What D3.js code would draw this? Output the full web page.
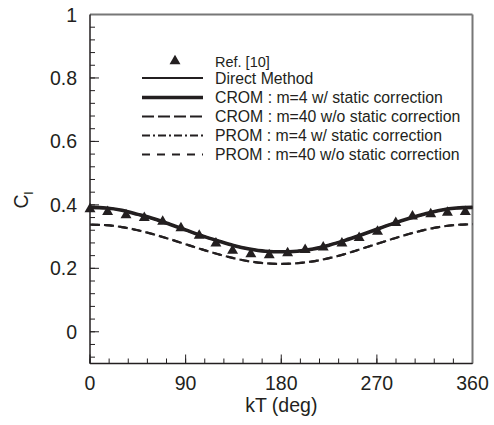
<!DOCTYPE html>
<html><head><meta charset="utf-8">
<script src="https://cdn.jsdelivr.net/npm/d3@7"></script>
<style>body{margin:0;background:#fff}svg{display:block;font-family:"Liberation Sans",Arial,sans-serif}</style>
</head><body><svg id="c" width="494" height="425"></svg>
<script>
// ---- data ----
const curveX = [0,15,30,45,60,75,90,105,120,135,150,165,180,195,210,225,240,255,270,285,300,315,330,345,360];
const directCl = [0.392,0.390,0.383,0.370,0.356,0.339,0.321,0.303,0.287,0.272,0.261,0.254,0.252,0.254,0.261,0.273,0.288,0.305,0.323,0.341,0.357,0.371,0.383,0.390,0.392];
const crom4Cl = directCl;
const prom4Cl = directCl;
const crom40Cl = [0.338,0.336,0.330,0.320,0.307,0.292,0.276,0.260,0.245,0.232,0.222,0.216,0.214,0.216,0.222,0.232,0.245,0.261,0.277,0.293,0.308,0.321,0.331,0.337,0.339];
const prom40Cl = crom40Cl;
const refX = [0,16.6,33.9,51.1,68.4,85.6,102.8,118.5,134.2,151.4,168.7,186,202.5,219.5,237.1,253.3,270.6,287.8,303.5,320.7,336.4,353.2];
const refCl = [0.387,0.378,0.368,0.359,0.347,0.327,0.303,0.279,0.256,0.245,0.242,0.248,0.258,0.266,0.279,0.296,0.316,0.343,0.364,0.371,0.376,0.378];
const xTicks = [0,90,180,270,360];
const yTicks = [0,0.2,0.4,0.6,0.8,1];
const legendLabels = ["Ref. [10]","Direct Method","CROM : m=4 w/ static correction","CROM : m=40 w/o static correction","PROM : m=4 w/ static correction","PROM : m=40 w/o static correction"];

// ---- layout ----
const svg = d3.select("#c");
const L = 90, R = 472.5, T = 14.5, B = 363.5;
const x = d3.scaleLinear().domain([0,360]).range([L,R]);
const y = d3.scaleLinear().domain([-0.1,1]).range([B,T]);
const ink = "#231f20";

// minor ticks
const xMinor = d3.range(0,361,18);
const yMinor = d3.range(-0.08,1.0001,0.04);
const g = svg.append("g");
g.selectAll(".xm").data(xMinor).join("line")
  .attr("x1",d=>x(d)).attr("x2",d=>x(d)).attr("y1",B).attr("y2",B-5)
  .attr("stroke",ink).attr("stroke-width",1);
g.selectAll(".ym").data(yMinor).join("line")
  .attr("x1",L).attr("x2",L+5).attr("y1",d=>y(d)).attr("y2",d=>y(d))
  .attr("stroke",ink).attr("stroke-width",1);
g.selectAll(".xM").data(xTicks).join("line")
  .attr("x1",d=>x(d)).attr("x2",d=>x(d)).attr("y1",B).attr("y2",B-9)
  .attr("stroke",ink).attr("stroke-width",1);
g.selectAll(".yM").data(yTicks).join("line")
  .attr("x1",L).attr("x2",L+9).attr("y1",d=>y(d)).attr("y2",d=>y(d))
  .attr("stroke",ink).attr("stroke-width",1);

// frame
svg.append("line").attr("x1",L).attr("x2",R).attr("y1",T).attr("y2",T).attr("stroke","#777").attr("stroke-width",2);
svg.append("line").attr("x1",R).attr("x2",R).attr("y1",T).attr("y2",B).attr("stroke","#777").attr("stroke-width",2);
svg.append("line").attr("x1",L).attr("x2",L).attr("y1",T).attr("y2",B).attr("stroke",ink).attr("stroke-width",1.5);
svg.append("line").attr("x1",L).attr("x2",R).attr("y1",B).attr("y2",B).attr("stroke",ink).attr("stroke-width",1.5);

// tick labels
svg.selectAll(".xl").data(xTicks).join("text")
  .attr("x",d=>x(d)).attr("y",390).attr("text-anchor","middle")
  .attr("font-size",19.5).attr("fill",ink).text(d=>d);
svg.selectAll(".yl").data(yTicks).join("text")
  .attr("x",77).attr("y",d=>y(d)+7).attr("text-anchor","end")
  .attr("font-size",19.5).attr("fill",ink).text(d=>d);

// axis titles
svg.append("text").attr("x",x(180)).attr("y",412).attr("text-anchor","middle")
  .attr("font-size",19.5).attr("fill",ink).text("kT (deg)");
const yt = svg.append("text").attr("transform","translate(28,200) rotate(-90)")
  .attr("text-anchor","middle").attr("font-size",19.5).attr("fill",ink);
yt.append("tspan").text("C");
yt.append("tspan").attr("font-size",13).attr("dy",5).text("l");

// curves
const line = d3.line().x((d,i)=>x(curveX[i])).y(d=>y(d)).curve(d3.curveMonotoneX);
const styles = [
  {vals:crom40Cl, w:2.2, dash:"10,4", off:0},
  {vals:prom40Cl, w:2.2, dash:"7,7", off:-1.5},
  {vals:crom4Cl, w:3.6, dash:null, off:0},
  {vals:directCl, w:2.2, dash:null, off:0},
  {vals:prom4Cl, w:2.2, dash:"8,3,2,3", off:0}
];
styles.forEach(s=>{
  svg.append("path").attr("d",line(s.vals)).attr("fill","none")
    .attr("stroke",ink).attr("stroke-width",s.w)
    .attr("stroke-dasharray",s.dash).attr("stroke-dashoffset",s.off);
});

// ref markers
const tri = d3.symbol().type(d3.symbolTriangle).size(52);
svg.selectAll(".ref").data(refCl).join("path")
  .attr("d",tri).attr("fill",ink)
  .attr("transform",(d,i)=>`translate(${x(refX[i])},${y(d)})`);

// legend
const lx1 = 142, lx2 = 203, tx = 215;
const rowsY = [61,78,97.5,116.5,135.5,154.5];
svg.append("path").attr("d",tri).attr("fill",ink)
  .attr("transform",`translate(175,${rowsY[0]})`);
const legStyles = [null,
  {w:2.2,dash:null},{w:3.6,dash:null},{w:2.2,dash:"12,4"},{w:2.2,dash:"8,3,2,3"},{w:2.2,dash:"8,7"}];
legendLabels.forEach((lab,i)=>{
  if(i>0){
    svg.append("line").attr("x1",lx1).attr("x2",lx2).attr("y1",rowsY[i]).attr("y2",rowsY[i])
      .attr("stroke",ink).attr("stroke-width",legStyles[i].w).attr("stroke-dasharray",legStyles[i].dash);
  }
  svg.append("text").attr("x",tx).attr("y",rowsY[i]+5.5)
    .attr("font-size",i===0?14.5:15.8).attr("fill",ink).text(lab);
});
</script></body></html>
